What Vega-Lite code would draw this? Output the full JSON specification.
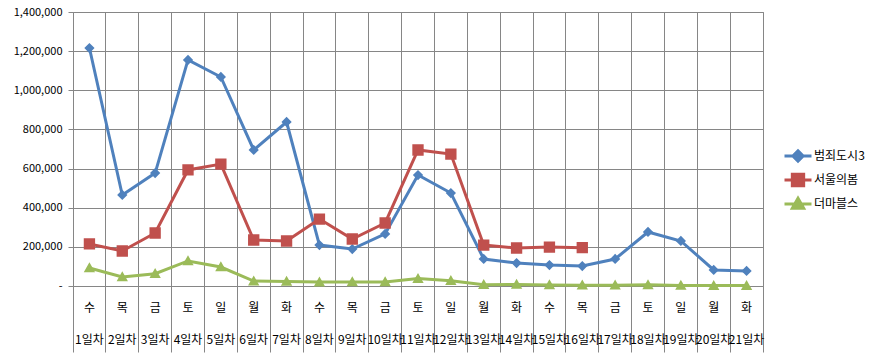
{
 "$schema": "https://vega.github.io/schema/vega-lite/v6.json",
 "width": 690, "height": 274,
 "autosize": "none",
 "padding": {"left": 73, "top": 12, "right": 122, "bottom": 70},
 "background": "white",
 "config": {"font": "Noto Sans CJK KR", "view": {"stroke": "#868686", "strokeWidth": 1}},
 "datasets": {
  "d": [
   {"x":"수|1일차","s":"범죄도시3","v":1216000},{"x":"목|2일차","s":"범죄도시3","v":465000},{"x":"금|3일차","s":"범죄도시3","v":577000},{"x":"토|4일차","s":"범죄도시3","v":1155000},{"x":"일|5일차","s":"범죄도시3","v":1068000},{"x":"월|6일차","s":"범죄도시3","v":695000},{"x":"화|7일차","s":"범죄도시3","v":838000},{"x":"수|8일차","s":"범죄도시3","v":209000},{"x":"목|9일차","s":"범죄도시3","v":189000},{"x":"금|10일차","s":"범죄도시3","v":266000},{"x":"토|11일차","s":"범죄도시3","v":567000},{"x":"일|12일차","s":"범죄도시3","v":475000},{"x":"월|13일차","s":"범죄도시3","v":138000},{"x":"화|14일차","s":"범죄도시3","v":117000},{"x":"수|15일차","s":"범죄도시3","v":107000},{"x":"목|16일차","s":"범죄도시3","v":102000},{"x":"금|17일차","s":"범죄도시3","v":138000},{"x":"토|18일차","s":"범죄도시3","v":276000},{"x":"일|19일차","s":"범죄도시3","v":230000},{"x":"월|20일차","s":"범죄도시3","v":82000},{"x":"화|21일차","s":"범죄도시3","v":77000},
   {"x":"수|1일차","s":"서울의봄","v":215000},{"x":"목|2일차","s":"서울의봄","v":179000},{"x":"금|3일차","s":"서울의봄","v":271000},{"x":"토|4일차","s":"서울의봄","v":593000},{"x":"일|5일차","s":"서울의봄","v":623000},{"x":"월|6일차","s":"서울의봄","v":235000},{"x":"화|7일차","s":"서울의봄","v":230000},{"x":"수|8일차","s":"서울의봄","v":342000},{"x":"목|9일차","s":"서울의봄","v":240000},{"x":"금|10일차","s":"서울의봄","v":322000},{"x":"토|11일차","s":"서울의봄","v":695000},{"x":"일|12일차","s":"서울의봄","v":674000},{"x":"월|13일차","s":"서울의봄","v":209000},{"x":"화|14일차","s":"서울의봄","v":194000},{"x":"수|15일차","s":"서울의봄","v":199000},{"x":"목|16일차","s":"서울의봄","v":196000},
   {"x":"수|1일차","s":"더마블스","v":92000},{"x":"목|2일차","s":"더마블스","v":46000},{"x":"금|3일차","s":"더마블스","v":63000},{"x":"토|4일차","s":"더마블스","v":128000},{"x":"일|5일차","s":"더마블스","v":97000},{"x":"월|6일차","s":"더마블스","v":25000},{"x":"화|7일차","s":"더마블스","v":23000},{"x":"수|8일차","s":"더마블스","v":20000},{"x":"목|9일차","s":"더마블스","v":21000},{"x":"금|10일차","s":"더마블스","v":21000},{"x":"토|11일차","s":"더마블스","v":38000},{"x":"일|12일차","s":"더마블스","v":27000},{"x":"월|13일차","s":"더마블스","v":7000},{"x":"화|14일차","s":"더마블스","v":8000},{"x":"수|15일차","s":"더마블스","v":5000},{"x":"목|16일차","s":"더마블스","v":4000},{"x":"금|17일차","s":"더마블스","v":4000},{"x":"토|18일차","s":"더마블스","v":6000},{"x":"일|19일차","s":"더마블스","v":3000},{"x":"월|20일차","s":"더마블스","v":2000},{"x":"화|21일차","s":"더마블스","v":2000}
  ]
 },
 "data": {"name": "d"},
 "encoding": {
  "x": {"field": "x", "type": "nominal", "sort": null, "bandPosition": 0.5, "title": null,
   "scale": {"type": "band", "paddingInner": 0, "paddingOuter": 0},
   "axis": {"bandPosition": 1, "tickExtra": true, "grid": true, "gridColor": "#868686", "gridOpacity": 1, "gridWidth": 1,
     "domain": false, "ticks": true, "tickSize": 66, "tickColor": "#868686", "tickOpacity": 1, "tickWidth": 1,
     "labelExpr": "datum.value ? split(datum.value, '|') : ''", "labelAngle": 0, "labelPadding": -50, "labelLineHeight": 32,
     "labelFontSize": 12, "labelColor": "#000000", "labelOverlap": false, "labelBound": false, "labelFlush": false}},
  "y": {"field": "v", "type": "quantitative", "title": null,
   "scale": {"domain": [0, 1400000], "nice": false},
   "axis": {"values": [0,200000,400000,600000,800000,1000000,1200000,1400000], "grid": true, "gridColor": "#868686", "gridOpacity": 1,
     "domain": false, "tickSize": 5, "tickColor": "#868686", "labelPadding": 6, "labelFontSize": 11, "labelColor": "#000000",
     "labelExpr": "datum.value == 0 ? '-' : format(datum.value, ',')", "labelBound": false, "labelFlush": false}},
  "color": {"field": "s", "type": "nominal", "title": null,
   "scale": {"domain": ["범죄도시3","서울의봄","더마블스"], "range": ["#4F81BD","#C0504D","#9BBB59"]},
   "legend": {"title": null, "orient": "none", "legendX": 710, "legendY": 132, "padding": 0,
      "symbolSize": 729, "clipHeight": 24, "rowPadding": 0, "labelOffset": 1, "labelFontSize": 12, "labelColor": "#000000",
      "symbolStrokeWidth": 3,
      "encode": {"symbols": {"update": {
        "stroke": {"scale": "color", "field": "value"}, "fill": {"scale": "color", "field": "value"}, "strokeWidth": {"value": 3}, "opacity": {"value": 1}}}}}}
 },
 "layer": [
  {"mark": {"type": "line", "strokeWidth": 3}},
  {"mark": {"type": "point", "filled": true, "opacity": 1, "size": 729},
   "encoding": {
    "shape": {"field": "s", "type": "nominal", "legend": null,
     "scale": {"domain": ["범죄도시3","서울의봄","더마블스"],
      "range": ["M-1,0H1M0,-0.38L0.38,0L0,0.38L-0.38,0Z", "M-1,0H1M-0.42,-0.42H0.42V0.42H-0.42Z", "M-1,0H1M0,-0.42L0.42,0.32H-0.42Z"]}}
   }}
 ]
}
